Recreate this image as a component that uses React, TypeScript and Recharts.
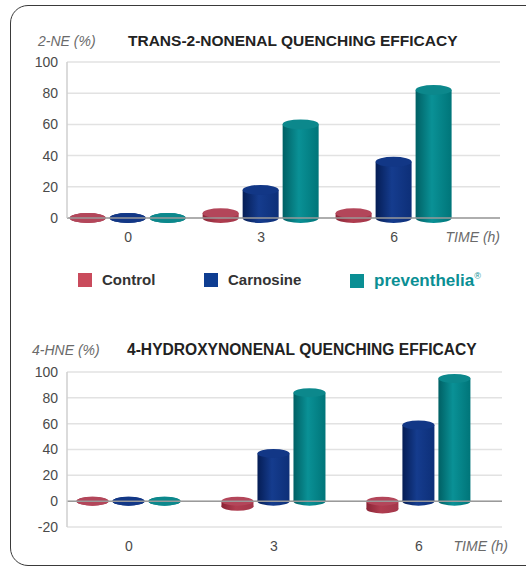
import React from "react";
import { BarChart, Bar, XAxis, YAxis, CartesianGrid, ReferenceLine } from "recharts";

const times = [0, 3, 6];
const seriesNames = ["Control", "Carnosine", "preventhelia"];

// trans-2-nonenal quenching (%)
const controlNE = [0, 3, 3];
const carnosineNE = [0, 18, 36];
const preventheliaNE = [0, 60, 82];

// 4-hydroxynonenal quenching (%)
const controlHNE = [0, -4, -6];
const carnosineHNE = [0, 37, 59];
const preventheliaHNE = [0, 84, 95];

const yTicksNE = [0, 20, 40, 60, 80, 100];
const yTicksHNE = [-20, 0, 20, 40, 60, 80, 100];

const FONT = "'Liberation Sans', Arial, sans-serif";

const palette = {
  control: { dark: "#8a2435", mid: "#b03d50", light: "#a3374a", top: "#b3465a", swatch: "#c94b5c" },
  carnosine: { dark: "#051d55", mid: "#153c8e", light: "#0d2f78", top: "#123786", swatch: "#0e3d91" },
  preventhelia: { dark: "#006064", mid: "#0a9196", light: "#007579", top: "#0c888c", swatch: "#0a8f94" },
};

type Pal = typeof palette.control;

const makeCylinder = (id: string, pal: Pal, ry: number) => (props: any) => {
  const { x, y, width, height } = props;
  if (x == null || y == null) return null;
  const h = height || 0;
  const top = Math.min(y, y + h);
  const bottom = Math.max(y, y + h);
  const cx = x + width / 2;
  const rx = width / 2;
  const gid = `grad-${id}`;
  return (
    <g>
      <defs>
        <linearGradient id={gid} x1="0" y1="0" x2="1" y2="0">
          <stop offset="0%" stopColor={pal.dark} />
          <stop offset="45%" stopColor={pal.mid} />
          <stop offset="100%" stopColor={pal.light} />
        </linearGradient>
      </defs>
      <ellipse cx={cx} cy={bottom} rx={rx} ry={ry} fill={`url(#${gid})`} />
      {bottom - top > 0 && <rect x={x} y={top} width={width} height={bottom - top} fill={`url(#${gid})`} />}
      <ellipse cx={cx} cy={top} rx={rx} ry={ry} fill={pal.top} />
    </g>
  );
};

const buildRows = (c: number[], k: number[], p: number[]) =>
  times.map((t, i) => ({ time: t, control: c[i], carnosine: k[i], preventhelia: p[i] }));

const dataNE = buildRows(controlNE, carnosineNE, preventheliaNE);
const dataHNE = buildRows(controlHNE, carnosineHNE, preventheliaHNE);

const tickStyle = { fontSize: 14, fill: "#4a4a4a", fontFamily: FONT };

function Titles({ top, unitLeft, unit, titleLeft, title, titleSize }: any) {
  return (
    <>
      <div style={{ position: "absolute", left: unitLeft, top: top + 1, fontSize: 14, fontStyle: "italic", color: "#6a6a6a", fontFamily: FONT }}>
        {unit}
      </div>
      <div style={{ position: "absolute", left: titleLeft, top, fontSize: titleSize, fontWeight: "bold", color: "#222", fontFamily: FONT }}>
        {title}
      </div>
    </>
  );
}

function Legend() {
  const items = [
    { name: seriesNames[0], color: palette.control.swatch, left: 78, text: "#333" },
    { name: seriesNames[1], color: palette.carnosine.swatch, left: 204, text: "#333" },
    { name: seriesNames[2], color: palette.preventhelia.swatch, left: 350, text: "#0a8f94" },
  ];
  return (
    <>
      {items.map((it, i) => (
        <div key={it.name} style={{ position: "absolute", left: it.left, top: 271, display: "flex", alignItems: "center", fontFamily: FONT }}>
          <span style={{ display: "inline-block", width: 14, height: 14, background: it.color, marginRight: 10 }} />
          <span style={{ fontSize: i === 2 ? 17 : 15, fontWeight: "bold", color: it.text }}>
            {it.name}
            {i === 2 && <sup style={{ fontSize: 9, fontWeight: "normal" }}>®</sup>}
          </span>
        </div>
      ))}
    </>
  );
}

export default function App() {
  return (
    <div style={{ position: "absolute", left: 0, top: 0, width: 526, height: 568, overflow: "hidden", background: "#fff" }}>
      <div
        style={{
          position: "absolute",
          left: 10,
          top: 5,
          width: 560,
          height: 559,
          border: "1.5px solid #3a3a3a",
          borderRadius: 18,
        }}
      />
      <Titles top={32} unitLeft={38} unit="2-NE (%)" titleLeft={128} title="TRANS-2-NONENAL QUENCHING EFFICACY" titleSize={15.5} />
      <div style={{ position: "absolute", left: 0, top: 0 }}>
        <BarChart width={510} height={250} data={dataNE} margin={{ top: 62, right: 10, left: 8, bottom: 2 }} barSize={36} barGap={4}>
          <CartesianGrid horizontal vertical={false} stroke="#e2e2e2" strokeWidth={1.5} />
          <XAxis
            dataKey="time"
            type="number"
            domain={[-1.38, 8.39]}
            ticks={times}
            interval={0}
            tickLine={false}
            axisLine={false}
            tick={tickStyle}
            tickMargin={8}
            height={30}
            label={{ value: "TIME (h)", position: "insideRight", offset: 0, dy: 4, style: { fontSize: 14, fontStyle: "italic", fill: "#6a6a6a", fontFamily: FONT, textAnchor: "end" } }}
          />
          <YAxis domain={[0, 100]} ticks={yTicksNE} width={59} tickLine={false} axisLine={{ stroke: "#cfcfcf", strokeWidth: 1.5 }} tick={tickStyle} tickMargin={3} interval={0} />
          <ReferenceLine y={0} stroke="#9a9a9a" strokeWidth={1.5} />
          <Bar dataKey="control" name={seriesNames[0]} isAnimationActive={false} shape={makeCylinder("ne-c", palette.control, 5)} />
          <Bar dataKey="carnosine" name={seriesNames[1]} isAnimationActive={false} shape={makeCylinder("ne-k", palette.carnosine, 5)} />
          <Bar dataKey="preventhelia" name={seriesNames[2]} isAnimationActive={false} shape={makeCylinder("ne-p", palette.preventhelia, 5)} />
        </BarChart>
      </div>
      <Legend />
      <Titles top={341} unitLeft={32} unit="4-HNE (%)" titleLeft={127} title="4-HYDROXYNONENAL QUENCHING EFFICACY" titleSize={15.6} />
      <div style={{ position: "absolute", left: 0, top: 320 }}>
        <BarChart width={514} height={248} data={dataHNE} margin={{ top: 52, right: 12, left: 8, bottom: 11 }} barSize={32} barGap={4}>
          <CartesianGrid horizontal vertical={false} stroke="#e2e2e2" strokeWidth={1.5} />
          <XAxis
            dataKey="time"
            type="number"
            domain={[-1.283, 7.72]}
            ticks={times}
            interval={0}
            tickLine={false}
            axisLine={false}
            tick={tickStyle}
            tickMargin={8}
            height={30}
            label={{ value: "TIME (h)", position: "insideRight", offset: -6, dy: 4, style: { fontSize: 14, fontStyle: "italic", fill: "#6a6a6a", fontFamily: FONT, textAnchor: "end" } }}
          />
          <YAxis domain={[-20, 100]} ticks={yTicksHNE} width={59} tickLine={false} axisLine={{ stroke: "#cfcfcf", strokeWidth: 1.5 }} tick={tickStyle} tickMargin={3} interval={0} />
          <ReferenceLine y={0} stroke="#9a9a9a" strokeWidth={1.5} />
          <Bar dataKey="control" name={seriesNames[0]} isAnimationActive={false} shape={makeCylinder("hne-c", palette.control, 4.5)} />
          <Bar dataKey="carnosine" name={seriesNames[1]} isAnimationActive={false} shape={makeCylinder("hne-k", palette.carnosine, 4.5)} />
          <Bar dataKey="preventhelia" name={seriesNames[2]} isAnimationActive={false} shape={makeCylinder("hne-p", palette.preventhelia, 4.5)} />
        </BarChart>
      </div>
    </div>
  );
}
